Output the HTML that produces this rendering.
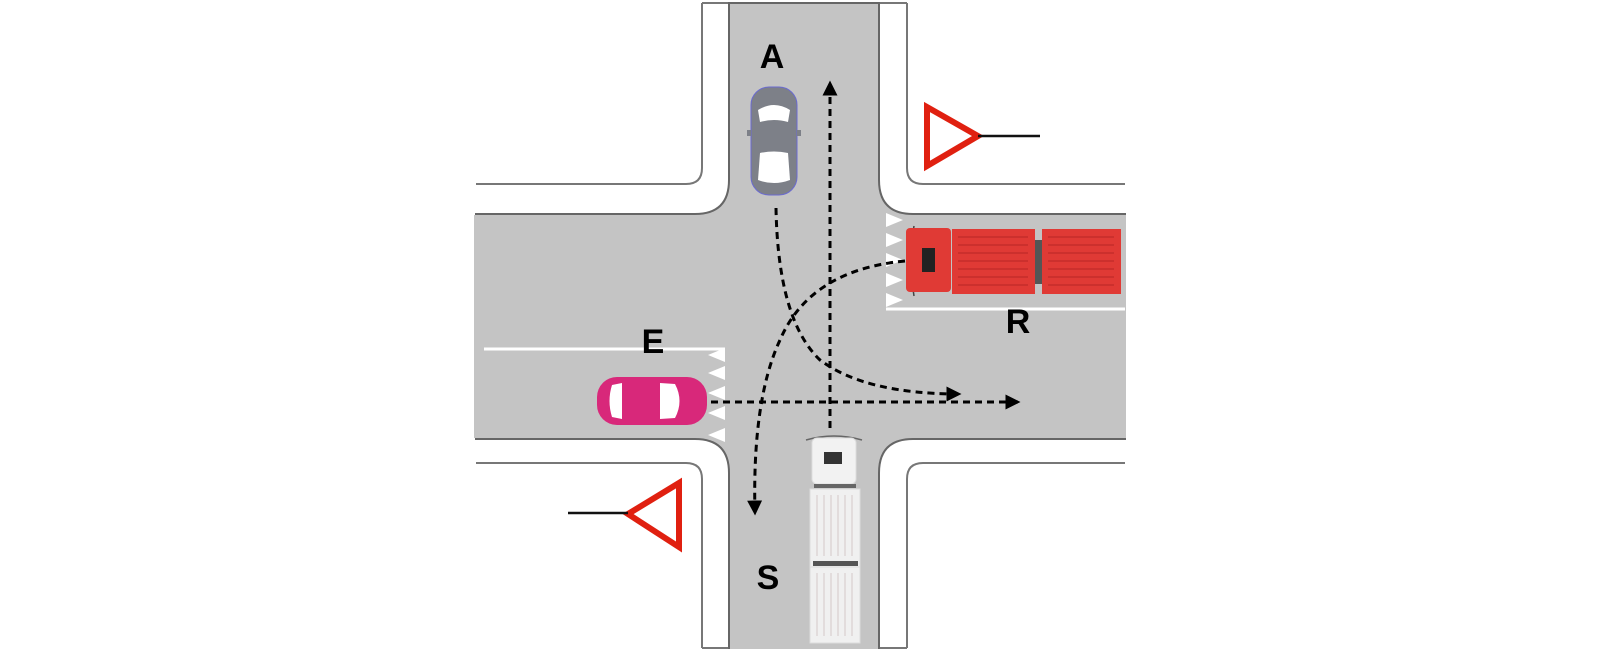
<!DOCTYPE html>
<html><head><meta charset="utf-8"><style>
html,body{margin:0;padding:0;background:#fff;}
svg{display:block;}
text{font-family:"Liberation Sans","DejaVu Sans",sans-serif;font-weight:bold;font-size:34px;fill:#000;text-anchor:middle;}
</style></head><body>
<svg width="1600" height="650" viewBox="0 0 1600 650" xmlns="http://www.w3.org/2000/svg">
<defs>
<marker id="ah" viewBox="0 0 10 10" refX="9" refY="5" markerWidth="5" markerHeight="5" orient="auto"><path d="M0,0 L10,5 L0,10 z" fill="#000"/></marker>
</defs>
<g fill="none" stroke="#777" stroke-width="2">
<path d="M702,3 V168 Q702,184 686,184 H476"/>
<path d="M907,3 V168 Q907,184 923,184 H1125"/>
<path d="M476,463 H686 Q702,463 702,479 V648"/>
<path d="M1125,463 H923 Q907,463 907,479 V648"/>
<path d="M702,3 H907"/>
<path d="M702,648 H907"/>
</g>
<path d="M729,3 H879 V180 Q879,214 913,214 H1125 V439 H913 Q879,439 879,473 V648 H729 V473 Q729,439 695,439 H476 V214 H695 Q729,214 729,180 Z" fill="#c4c4c4" stroke="#666" stroke-width="2"/>
<rect x="1122" y="215" width="4" height="223" fill="#c4c4c4"/>
<rect x="474" y="215" width="4" height="223" fill="#c4c4c4"/>
<rect x="730" y="645" width="148" height="4" fill="#c4c4c4"/>
<line x1="886" y1="309" x2="1125" y2="309" stroke="#fff" stroke-width="3"/>
<line x1="484" y1="349" x2="725" y2="349" stroke="#fff" stroke-width="3"/>
<g fill="#fff">
<path d="M886,213 L903,220 L886,227Z"/><path d="M886,233 L903,240 L886,247Z"/><path d="M886,253 L903,260 L886,267Z"/><path d="M886,273 L903,280 L886,287Z"/><path d="M886,293 L903,300 L886,307Z"/>
<path d="M725,348 L708,355 L725,362Z"/><path d="M725,366 L708,373 L725,380Z"/><path d="M725,386 L708,393 L725,400Z"/><path d="M725,406 L708,413 L725,420Z"/><path d="M725,428 L708,435 L725,442Z"/>
</g>
<path d="M927,107 L927,166 L978,136 Z" fill="#fff" stroke="#e02010" stroke-width="6"/>
<line x1="978" y1="136" x2="1040" y2="136" stroke="#111" stroke-width="2.5"/>
<path d="M679,483 L679,547 L628,514 Z" fill="#fff" stroke="#e02010" stroke-width="6"/>
<line x1="568" y1="513" x2="628" y2="513" stroke="#111" stroke-width="2.5"/>
<!-- car A -->
<g>
<rect x="751" y="87" width="46" height="108" rx="18" fill="#7d8088" stroke="#6a6ad0" stroke-width="1"/>
<path d="M758,110 Q774,100 790,110 L788,122 Q774,118 760,122Z" fill="#fff"/>
<path d="M758,180 Q774,186 790,180 L788,153 Q774,150 760,153Z" fill="#fff"/>
<rect x="747" y="130" width="4" height="6" fill="#7d8088"/><rect x="797" y="130" width="4" height="6" fill="#7d8088"/>
</g>
<!-- truck R -->
<g>
<path d="M914,226 Q908,260 914,296" fill="none" stroke="#444" stroke-width="1.5"/>
<rect x="906" y="228" width="45" height="64" rx="4" fill="#e03a35"/>
<rect x="922" y="248" width="13" height="24" fill="#222"/>
<rect x="952" y="229" width="83" height="65" fill="#e03a35"/>
<rect x="1035" y="240" width="7" height="44" fill="#555"/>
<rect x="1042" y="229" width="79" height="65" fill="#e03a35"/>
<g stroke="#b82525" stroke-width="1">
<line x1="958" y1="237" x2="1028" y2="237"/><line x1="958" y1="245" x2="1028" y2="245"/><line x1="958" y1="253" x2="1028" y2="253"/><line x1="958" y1="261" x2="1028" y2="261"/><line x1="958" y1="269" x2="1028" y2="269"/><line x1="958" y1="277" x2="1028" y2="277"/><line x1="958" y1="285" x2="1028" y2="285"/>
<line x1="1048" y1="237" x2="1114" y2="237"/><line x1="1048" y1="245" x2="1114" y2="245"/><line x1="1048" y1="253" x2="1114" y2="253"/><line x1="1048" y1="261" x2="1114" y2="261"/><line x1="1048" y1="269" x2="1114" y2="269"/><line x1="1048" y1="277" x2="1114" y2="277"/><line x1="1048" y1="285" x2="1114" y2="285"/>
</g>
</g>
<!-- car E -->
<g>
<rect x="597" y="377" width="110" height="48" rx="20" fill="#d8287a"/>
<path d="M612,385 L622,383 L622,419 L612,417 Q607,401 612,385Z" fill="#fff"/>
<path d="M660,383 L675,384 Q684,401 675,418 L660,419Z" fill="#fff"/>
</g>
<!-- truck S -->
<g>
<path d="M806,440 Q834,432 862,440" fill="none" stroke="#666" stroke-width="1.5"/>
<rect x="812" y="438" width="44" height="46" rx="5" fill="#f2f2f2" stroke="#ddd"/>
<rect x="824" y="452" width="18" height="12" fill="#333"/>
<rect x="814" y="484" width="42" height="4" fill="#666"/>
<rect x="810" y="489" width="50" height="80" fill="#f0f0f0" stroke="#ddd"/>
<rect x="813" y="561" width="45" height="5" fill="#555"/>
<rect x="810" y="567" width="50" height="76" fill="#f0f0f0" stroke="#ddd"/>
<g stroke="#d4c8c8" stroke-width="1">
<line x1="817" y1="495" x2="817" y2="556"/><line x1="824" y1="495" x2="824" y2="556"/><line x1="831" y1="495" x2="831" y2="556"/><line x1="838" y1="495" x2="838" y2="556"/><line x1="845" y1="495" x2="845" y2="556"/><line x1="852" y1="495" x2="852" y2="556"/>
<line x1="817" y1="573" x2="817" y2="636"/><line x1="824" y1="573" x2="824" y2="636"/><line x1="831" y1="573" x2="831" y2="636"/><line x1="838" y1="573" x2="838" y2="636"/><line x1="845" y1="573" x2="845" y2="636"/><line x1="852" y1="573" x2="852" y2="636"/>
</g>
</g>
<g fill="none" stroke="#000" stroke-width="3" stroke-dasharray="7,5">
<path d="M830,428 V82" marker-end="url(#ah)"/>
<path d="M711,402 H1019" marker-end="url(#ah)"/>
<path d="M776,208 Q778,320 820,360 Q865,394 960,394" marker-end="url(#ah)"/>
<path d="M905,261 Q810,270 780,340 Q752,400 755,514" marker-end="url(#ah)"/>
</g>
<text x="772" y="68">A</text>
<text x="1018" y="333">R</text>
<text x="653" y="353">E</text>
<text x="768" y="589">S</text>
</svg>
</body></html>
